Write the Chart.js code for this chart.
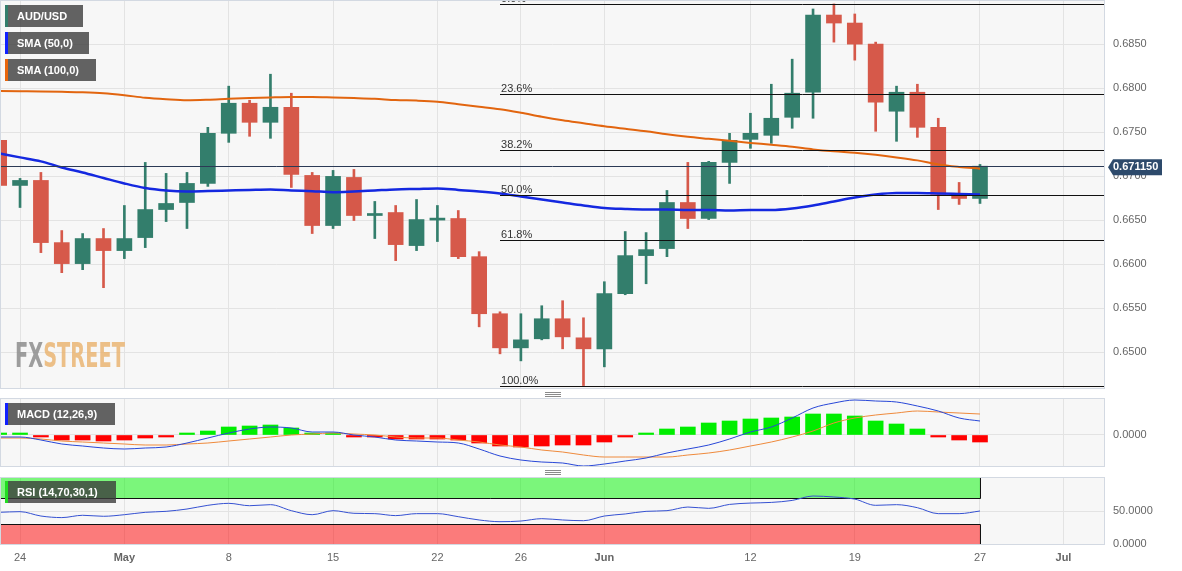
<!DOCTYPE html>
<html>
<head>
<meta charset="utf-8">
<script src="https://cdn.jsdelivr.net/npm/chart.js@4.4.0/dist/chart.umd.min.js"></script>
<style>
    body { margin: 0; background: #fff; font-family: "Liberation Sans", Arial, sans-serif; }
    #wrap { position: relative; width: 1182px; height: 571px; overflow: hidden; }
    #wrap canvas { position: absolute; left: 0; }
    .tag { position: absolute; left: 5px; height: 22px; line-height: 22px; background: rgba(60,60,60,0.8);
           color: #fff; font-weight: bold; font-size: 11px; padding-left: 12px; box-sizing: border-box; white-space: nowrap; }
    .tag i { position: absolute; left: 0; top: 0; width: 3px; height: 100%; }
    .grip { position: absolute; left: 545px; width: 16px; height: 1px; background: #8a8a8a;
            box-shadow: 0 2px 0 #8a8a8a, 0 4px 0 #8a8a8a; }
    #wm { position: absolute; left: 15px; top: 338px; font-family: "DejaVu Sans Condensed", "Liberation Sans Narrow", sans-serif;
          font-weight: bold; font-size: 36px; line-height: 36px; transform-origin: 0 0; white-space: nowrap; opacity: 0.85; }
</style>
</head>
<body>
<div id="wrap">
    <canvas id="mainChart" width="1182" height="389" style="top:0"></canvas>
    <canvas id="macdChart" width="1182" height="69" style="top:398px"></canvas>
    <canvas id="rsiChart" width="1182" height="94" style="top:477px"></canvas>

    <div class="tag" style="top:5px;width:78px"><i style="background:#337e6c"></i>AUD/USD</div>
    <div class="tag" style="top:32px;width:84px"><i style="background:#1020ff"></i>SMA (50,0)</div>
    <div class="tag" style="top:59px;width:91px"><i style="background:#e8650c"></i>SMA (100,0)</div>
    <div class="tag" style="top:403px;width:110px"><i style="background:#1020ff"></i>MACD (12,26,9)</div>
    <div class="tag" style="top:481px;width:111px"><i style="background:#22dd22"></i>RSI (14,70,30,1)</div>

    <div class="grip" style="top:392px"></div>
    <div class="grip" style="top:470px"></div>

    <div id="wm"><span style="color:#8e8e8e">FX</span><span style="color:#eab574">STREET</span></div>
</div>

<script>
    // trading days, index 0 = 21 Apr
    const dates = ['Apr 21', 'Apr 24', 'Apr 25', 'Apr 26', 'Apr 27', 'Apr 28',
        'May 1', 'May 2', 'May 3', 'May 4', 'May 5', 'May 8', 'May 9', 'May 10', 'May 11', 'May 12',
        'May 15', 'May 16', 'May 17', 'May 18', 'May 19', 'May 22', 'May 23', 'May 24', 'May 25', 'May 26',
        'May 29', 'May 30', 'May 31', 'Jun 1', 'Jun 2', 'Jun 5', 'Jun 6', 'Jun 7', 'Jun 8', 'Jun 9',
        'Jun 12', 'Jun 13', 'Jun 14', 'Jun 15', 'Jun 16', 'Jun 19', 'Jun 20', 'Jun 21', 'Jun 22', 'Jun 23',
        'Jun 26', 'Jun 27'];

    const opens = [0.67409, 0.66896, 0.66953, 0.66246, 0.66007, 0.66292, 0.66155, 0.66303, 0.66622, 0.66702,
        0.66919, 0.67489, 0.67831, 0.67614, 0.67785, 0.67010, 0.66440, 0.66987, 0.66554, 0.66588,
        0.66212, 0.66502, 0.66520, 0.66086, 0.65437, 0.65049, 0.65152, 0.65380, 0.65163, 0.65038,
        0.65665, 0.66098, 0.66178, 0.66702, 0.66520, 0.67158, 0.67420, 0.67466, 0.67671, 0.67956,
        0.68834, 0.68743, 0.68503, 0.67740, 0.67956, 0.67557, 0.66782, 0.66748];
    const highs = [0.67523, 0.66976, 0.67044, 0.66383, 0.66349, 0.66406, 0.66668, 0.67158, 0.67033, 0.67044,
        0.67557, 0.68025, 0.67865, 0.68161, 0.67945, 0.67044, 0.67067, 0.67078, 0.66714, 0.66668,
        0.66736, 0.66668, 0.66611, 0.66143, 0.65459, 0.65437, 0.65528, 0.65585, 0.65391, 0.65801,
        0.66372, 0.66360, 0.66839, 0.67158, 0.67170, 0.67489, 0.67717, 0.68047, 0.68332, 0.68903,
        0.68960, 0.68846, 0.68526, 0.68025, 0.68047, 0.67660, 0.66930, 0.67135];
    const lows = [0.66782, 0.66645, 0.66132, 0.65904, 0.65938, 0.65733, 0.66064, 0.66189, 0.66485, 0.66406,
        0.66885, 0.67386, 0.67455, 0.67432, 0.66873, 0.66349, 0.66406, 0.66497, 0.66292, 0.66041,
        0.66155, 0.66258, 0.66064, 0.65288, 0.64981, 0.64901, 0.65140, 0.65038, 0.64620, 0.64833,
        0.65653, 0.65778, 0.66086, 0.66406, 0.66508, 0.66919, 0.67318, 0.67375, 0.67546, 0.67660,
        0.68526, 0.68321, 0.67512, 0.67398, 0.67443, 0.66622, 0.66680, 0.66691];
    const closes = [0.66896, 0.66953, 0.66246, 0.66007, 0.66292, 0.66155, 0.66292, 0.66622, 0.66691, 0.66919,
        0.67489, 0.67831, 0.67614, 0.67785, 0.67021, 0.66440, 0.66999, 0.66554, 0.66577, 0.66223,
        0.66508, 0.66508, 0.66086, 0.65437, 0.65049, 0.65140, 0.65380, 0.65174, 0.65038, 0.65665,
        0.66098, 0.66166, 0.66702, 0.66520, 0.67158, 0.67409, 0.67489, 0.67660, 0.67945, 0.68834,
        0.68743, 0.68503, 0.67842, 0.67956, 0.67557, 0.66793, 0.66748, 0.67115];

    const sma50 = [0.67261, 0.67215, 0.67170, 0.67101, 0.67044, 0.66981, 0.66919, 0.66867, 0.66839, 0.66828,
        0.66833, 0.66839, 0.66845, 0.66850, 0.66839, 0.66831, 0.66820, 0.66828, 0.66839, 0.66850,
        0.66856, 0.66862, 0.66845, 0.66828, 0.66805, 0.66771, 0.66736, 0.66702, 0.66668, 0.66639,
        0.66628, 0.66622, 0.66622, 0.66617, 0.66617, 0.66611, 0.66617, 0.66617, 0.66634, 0.66668,
        0.66714, 0.66759, 0.66793, 0.66810, 0.66810, 0.66805, 0.66799, 0.66793];
    const sma100 = [0.67971, 0.67968, 0.67965, 0.67961, 0.67956, 0.67945, 0.67922, 0.67893, 0.67876, 0.67865,
        0.67871, 0.67882, 0.67891, 0.67897, 0.67901, 0.67901, 0.67896, 0.67890, 0.67882, 0.67867,
        0.67861, 0.67848, 0.67819, 0.67791, 0.67762, 0.67722, 0.67677, 0.67637, 0.67603, 0.67569,
        0.67540, 0.67512, 0.67477, 0.67449, 0.67426, 0.67403, 0.67380, 0.67358, 0.67335, 0.67306,
        0.67284, 0.67267, 0.67244, 0.67215, 0.67181, 0.67135, 0.67107, 0.67087];

    const macdLine = [-0.0002, -0.0002, -0.0005, -0.0009, -0.0011, -0.0013, -0.0014, -0.0013, -0.0012, -0.0008,
        -0.0003, 0.0002, 0.0006, 0.0008, 0.0007, 0.0003, 0.0003, 0.0000, -0.0002, -0.0005,
        -0.0006, -0.0007, -0.0008, -0.0014, -0.0021, -0.0025, -0.0027, -0.0028, -0.0031, -0.0029,
        -0.0026, -0.0023, -0.0018, -0.0014, -0.0010, -0.0004, 0.0003, 0.0008, 0.0017, 0.0027,
        0.0032, 0.0035, 0.0034, 0.0033, 0.0029, 0.0024, 0.0017, 0.0014];
    const signalLine = [-0.0003, -0.0003, -0.0004, -0.0006, -0.0007, -0.0008, -0.0009, -0.0010, -0.0010, -0.0009,
        -0.0008, -0.0006, -0.0004, -0.0002, 0.0000, 0.0001, 0.0002, 0.0001, 0.0000, -0.0002,
        -0.0003, -0.0003, -0.0005, -0.0007, -0.0010, -0.0012, -0.0015, -0.0017, -0.0020, -0.0022,
        -0.0022, -0.0022, -0.0022, -0.0020, -0.0018, -0.0015, -0.0011, -0.0007, -0.0002, 0.0004,
        0.0012, 0.0017, 0.0020, 0.0022, 0.0024, 0.0023, 0.0022, 0.0021];
    const histogram = [0.00015, 0.0001, -0.0001, -0.0005, -0.0005, -0.0006, -0.0005, -0.0003, -0.0002, 0.0001,
        0.0004, 0.0008, 0.0009, 0.0010, 0.0007, 0.0002, 0.0001, -0.0001, -0.0002, -0.0004,
        -0.0004, -0.0004, -0.0005, -0.0008, -0.0011, -0.0012, -0.0011, -0.0010, -0.0010, -0.0007,
        -0.0002, 0.0001, 0.0006, 0.0008, 0.0012, 0.0014, 0.0016, 0.0017, 0.0018, 0.0021,
        0.0021, 0.0019, 0.0014, 0.0011, 0.0006, -0.0001, -0.0005, -0.0007];

    const rsi = [48, 49, 42.4, 40, 43.5, 42, 44.4, 48, 49.5, 53,
        58.6, 61.6, 58, 59.6, 50.5, 44.4, 50.5, 46.5, 46, 43,
        46, 46, 41.4, 36.4, 33.8, 34.8, 38.4, 36.4, 35.3, 42.4,
        45.5, 49.5, 50.5, 56, 54, 60, 62, 63, 66, 72.7,
        71.2, 68, 58.6, 59.6, 55, 46, 46, 50];

    const fibLabels = ['0.0%', '23.6%', '38.2%', '50.0%', '61.8%', '100.0%'];
    const fibLevels = [0.6896, 0.6794, 0.6730, 0.6679, 0.6628, 0.6462];
    const fibStart = 24;
    const lastPrice = 0.67115;

    const tickPos = [1, 6, 11, 16, 21, 25, 29, 36, 41, 47, 51];
    const tickText = ['24', 'May', '8', '15', '22', '26', 'Jun', '12', '19', '27', 'Jul'];
    const priceTicks = [0.650, 0.655, 0.660, 0.665, 0.670, 0.675, 0.680, 0.685];

    const UP = '#337e6c', DOWN = '#d6594a', GRID = '#e3e3e3', BORDER = '#d3d9e2';
    const X_MIN = 0.04, X_MAX = 52.99;

    Chart.defaults.font.family = '"Liberation Sans", Arial, sans-serif';
    Chart.defaults.font.size = 11;
    Chart.defaults.color = '#666';

    function noPad(s) {
        s.paddingTop = 0; s.paddingBottom = 0; s.paddingLeft = 0; s.paddingRight = 0;
    }

    function xScale(showLabels) {
        return {
            type: 'linear', min: X_MIN, max: X_MAX, offset: false,
            grid: { color: GRID, drawTicks: false, offset: false },
            border: { display: false },
            afterBuildTicks: s => { s.ticks = tickPos.map(v => ({ value: v })); },
            afterFit: s => { noPad(s); if (!showLabels) s.height = 0; else s.height = 26; },
            ticks: {
                display: showLabels, autoSkip: false, maxRotation: 0, padding: 6, color: '#666',
                callback: v => tickText[tickPos.indexOf(v)],
                font: c => ({ size: 11, weight: ['May', 'Jun', 'Jul'].includes(tickText[c.index]) ? 'bold' : 'normal' })
            }
        };
    }

    function yScale(min, max, values, fmt) {
        return {
            position: 'right', min: min, max: max,
            grid: { color: GRID, drawTicks: false },
            border: { display: false },
            afterBuildTicks: s => { s.ticks = values.map(v => ({ value: v })); },
            afterFit: s => { s.width = 77; noPad(s); },
            ticks: { padding: 8, color: '#666', callback: fmt }
        };
    }

    // panel background and frame
    const panel = {
        id: 'panel',
        beforeDraw(chart) {
            const { ctx, chartArea: a } = chart;
            ctx.save();
            ctx.fillStyle = '#f7f7f7';
            ctx.fillRect(a.left, a.top, a.right - a.left, a.bottom - a.top);
            ctx.restore();
        },
        afterDraw(chart) {
            const { ctx, chartArea: a } = chart;
            ctx.save();
            ctx.strokeStyle = BORDER;
            ctx.lineWidth = 1;
            ctx.strokeRect(a.left + 0.5, a.top + 0.5, a.right - a.left - 1, a.bottom - a.top - 1);
            ctx.restore();
        }
    };

    const fibPlugin = {
        id: 'fib',
        afterDatasetsDraw(chart) {
            const { ctx, chartArea: a, scales } = chart;
            const x0 = scales.x.getPixelForValue(fibStart);
            ctx.save();
            ctx.strokeStyle = '#111';
            ctx.lineWidth = 1;
            ctx.fillStyle = '#333';
            ctx.font = '11px "Liberation Sans", Arial, sans-serif';
            ctx.textBaseline = 'alphabetic';
            fibLevels.forEach((lv, i) => {
                const y = Math.round(scales.y.getPixelForValue(lv)) + 0.5;
                ctx.beginPath();
                ctx.moveTo(x0, y);
                ctx.lineTo(a.right, y);
                ctx.stroke();
                ctx.fillText(fibLabels[i], x0 + 1, y - 3);
            });
            // current price line
            const py = Math.round(scales.y.getPixelForValue(lastPrice)) + 0.5;
            ctx.strokeStyle = '#2b3a55';
            ctx.beginPath();
            ctx.moveTo(a.left, py);
            ctx.lineTo(a.right, py);
            ctx.stroke();
            ctx.restore();
        },
        afterDraw(chart) {
            const { ctx, scales } = chart;
            const y = scales.y.getPixelForValue(lastPrice) + 1;
            ctx.save();
            ctx.fillStyle = '#2d4a6b';
            ctx.beginPath();
            ctx.moveTo(1108, y);
            ctx.lineTo(1113, y - 8);
            ctx.lineTo(1162, y - 8);
            ctx.lineTo(1162, y + 8);
            ctx.lineTo(1113, y + 8);
            ctx.closePath();
            ctx.fill();
            ctx.fillStyle = '#fff';
            ctx.font = 'bold 11px "Liberation Sans", Arial, sans-serif';
            ctx.textBaseline = 'middle';
            ctx.fillText(lastPrice.toFixed(6), 1113, y);
            ctx.restore();
        }
    };

    const bandPlugin = {
        id: 'bands',
        beforeDatasetsDraw(chart) {
            const { ctx, chartArea: a, scales } = chart;
            const xe = Math.round(scales.x.getPixelForValue(dates.length - 1)) + 0.5;
            const y100 = scales.y.getPixelForValue(100), y70 = Math.round(scales.y.getPixelForValue(70)) + 0.5;
            const y30 = Math.round(scales.y.getPixelForValue(30)) + 0.5, y0 = scales.y.getPixelForValue(0);
            ctx.save();
            ctx.fillStyle = 'rgba(0,245,0,0.5)';
            ctx.fillRect(a.left, y100, xe - a.left, y70 - y100);
            ctx.fillStyle = 'rgba(255,0,0,0.5)';
            ctx.fillRect(a.left, y30, xe - a.left, y0 - y30);
            ctx.strokeStyle = '#111';
            ctx.lineWidth = 1;
            ctx.beginPath();
            ctx.moveTo(a.left, y70); ctx.lineTo(xe, y70); ctx.lineTo(xe, y100);
            ctx.moveTo(a.left, y30); ctx.lineTo(xe, y30); ctx.lineTo(xe, y0);
            ctx.stroke();
            ctx.restore();
        }
    };

    const pts = arr => arr.map((v, i) => ({ x: i, y: v }));
    const candleColors = dates.map((d, i) => closes[i] >= opens[i] ? UP : DOWN);

    new Chart(document.getElementById('mainChart'), {
        type: 'bar',
        data: {
            datasets: [
                {
                    type: 'line', data: pts(sma50), borderColor: '#1428e0', borderWidth: 2.5,
                    pointRadius: 0, cubicInterpolationMode: 'monotone', order: 0
                },
                {
                    type: 'line', data: pts(sma100), borderColor: '#e2650f', borderWidth: 2,
                    pointRadius: 0, cubicInterpolationMode: 'monotone', order: 0
                },
                {
                    data: dates.map((d, i) => ({ x: i, y: [opens[i], closes[i]] })),
                    backgroundColor: candleColors, barThickness: 15, minBarLength: 2, grouped: false, order: 1
                },
                {
                    data: dates.map((d, i) => ({ x: i, y: [lows[i], highs[i]] })),
                    backgroundColor: candleColors, barThickness: 2, grouped: false, order: 2
                }
            ]
        },
        options: {
            responsive: false, animation: false, devicePixelRatio: 1,
            layout: { padding: 0 },
            plugins: { legend: { display: false }, tooltip: { enabled: false } },
            scales: {
                x: xScale(false),
                y: yScale(0.64581, 0.69005, priceTicks, v => v.toFixed(4))
            }
        },
        plugins: [panel, fibPlugin]
    });

    new Chart(document.getElementById('macdChart'), {
        type: 'bar',
        data: {
            datasets: [
                {
                    type: 'line', data: pts(macdLine), borderColor: '#2847d8', borderWidth: 1,
                    pointRadius: 0, cubicInterpolationMode: 'monotone', order: 0
                },
                {
                    type: 'line', data: pts(signalLine), borderColor: '#ef8a3c', borderWidth: 1,
                    pointRadius: 0, cubicInterpolationMode: 'monotone', order: 0
                },
                {
                    data: pts(histogram),
                    backgroundColor: histogram.map(v => v >= 0 ? '#00ee00' : '#ff0000'),
                    barThickness: 15, minBarLength: 2, grouped: false, order: 1
                }
            ]
        },
        options: {
            responsive: false, animation: false, devicePixelRatio: 1,
            layout: { padding: 0 },
            plugins: { legend: { display: false }, tooltip: { enabled: false } },
            scales: {
                x: xScale(false),
                y: yScale(-0.0032, 0.0037, [0], v => v.toFixed(4))
            }
        },
        plugins: [panel]
    });

    new Chart(document.getElementById('rsiChart'), {
        type: 'line',
        data: {
            datasets: [{
                data: pts(rsi), borderColor: '#3551d2', borderWidth: 1, pointRadius: 0,
                cubicInterpolationMode: 'monotone'
            }]
        },
        options: {
            responsive: false, animation: false, devicePixelRatio: 1,
            layout: { padding: 0 },
            plugins: { legend: { display: false }, tooltip: { enabled: false } },
            scales: {
                x: xScale(true),
                y: yScale(-1.5, 101.5, [0, 50], v => v.toFixed(4))
            }
        },
        plugins: [panel, bandPlugin]
    });

    // squeeze the watermark to its width
    const wm = document.getElementById('wm');
    wm.style.transform = 'scale(' + (110 / wm.offsetWidth) + ',0.95)';
</script>
</body>
</html>
